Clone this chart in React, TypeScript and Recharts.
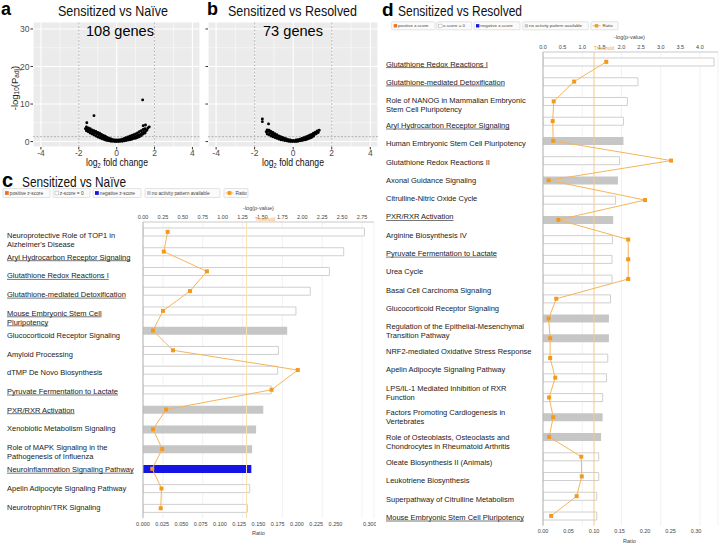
import React, { useLayoutEffect, useRef, useState } from "react";
import {
  ScatterChart,
  Scatter,
  ComposedChart,
  Bar,
  Line,
  Cell,
  XAxis,
  YAxis,
  CartesianGrid,
  ReferenceLine,
} from "recharts";

const FONT = '"Liberation Sans", Arial, Helvetica, sans-serif';

// ---- volcano plots (log2 fold change, -log10 Padj) ----
const naiveGenes: [number, number][] = [
  [-1.65, 3.4], [-1.6, 2.9], [-1.6, 3.9], [-1.55, 3.3], [-1.5, 2.6], [-1.5, 3.6], [-1.45, 3.0],
  [-1.4, 2.3], [-1.4, 3.4], [-1.35, 2.8], [-1.3, 2.0], [-1.3, 3.1], [-1.25, 2.5], [-1.2, 1.8],
  [-1.2, 2.9], [-1.15, 2.3], [-1.1, 1.5], [-1.1, 2.7], [-1.05, 2.1], [-1.0, 1.2], [-1.0, 2.4],
  [-0.95, 1.8], [-0.9, 1.0], [-0.9, 2.2], [-0.85, 1.5], [-0.8, 0.8], [-0.8, 1.9], [-0.75, 1.3],
  [-0.7, 0.6], [-0.7, 1.6], [-0.65, 1.1], [-0.6, 0.4], [-0.6, 1.4], [-0.55, 0.9], [-0.5, 0.3],
  [-0.5, 1.1], [-0.45, 0.7], [-0.4, 0.2], [-0.4, 0.9], [-0.35, 0.5], [-0.3, 0.1], [-0.3, 0.7],
  [-0.25, 0.4], [-0.2, 0.1], [-0.2, 0.5], [-0.15, 0.3], [-0.1, 0.0], [-0.1, 0.4], [-0.05, 0.2],
  [0, 0.0], [0, 0.4], [0.05, 0.2], [0.1, 0.0], [0.1, 0.4], [0.15, 0.2], [0.2, 0.1], [0.2, 0.5],
  [0.25, 0.3], [0.3, 0.1], [0.3, 0.6], [0.35, 0.4], [0.4, 0.2], [0.4, 0.8], [0.45, 0.5],
  [0.5, 0.3], [0.5, 1.0], [0.55, 0.6], [0.6, 0.4], [0.6, 1.2], [0.65, 0.8], [0.7, 0.5],
  [0.7, 1.4], [0.75, 1.0], [0.8, 0.6], [0.8, 1.6], [0.85, 1.1], [0.9, 0.8], [0.9, 1.8],
  [0.95, 1.3], [1.0, 0.9], [1.0, 2.0], [1.05, 1.5], [1.1, 1.1], [1.1, 2.3], [1.15, 1.7],
  [1.2, 1.3], [1.2, 2.6], [1.25, 1.9], [1.3, 1.6], [1.3, 2.9], [1.35, 2.3], [1.4, 2.0],
  [1.4, 3.2], [1.45, 2.6], [1.5, 2.3], [1.5, 3.4], [1.55, 2.9], [1.6, 3.1], [1.65, 3.6],
  [1.72, 3.9],
  [-1.58, 5.0], [-1.2, 6.9], [1.37, 11.1], [1.4, 4.2], [1.52, 4.4],
];

const resolvedGenes: [number, number][] = [
  [-1.4, 2.6], [-1.35, 3.1], [-1.35, 2.0], [-1.3, 2.7], [-1.25, 1.8], [-1.25, 3.0], [-1.2, 2.3],
  [-1.15, 1.5], [-1.15, 2.7], [-1.1, 2.0], [-1.05, 1.3], [-1.05, 2.4], [-1.0, 1.7], [-0.95, 1.1],
  [-0.95, 2.1], [-0.9, 1.5], [-0.85, 0.9], [-0.85, 1.8], [-0.8, 1.2], [-0.75, 0.7], [-0.75, 1.5],
  [-0.7, 1.0], [-0.65, 0.5], [-0.65, 1.3], [-0.6, 0.8], [-0.55, 0.4], [-0.55, 1.1], [-0.5, 0.6],
  [-0.45, 0.3], [-0.45, 0.9], [-0.4, 0.5], [-0.35, 0.2], [-0.35, 0.7], [-0.3, 0.4], [-0.25, 0.1],
  [-0.25, 0.5], [-0.2, 0.3], [-0.15, 0.0], [-0.15, 0.4], [-0.1, 0.2], [-0.05, 0.0], [0, 0.3],
  [0.05, 0.0], [0.1, 0.2], [0.15, 0.0], [0.15, 0.4], [0.2, 0.2], [0.25, 0.1], [0.25, 0.5],
  [0.3, 0.3], [0.35, 0.2], [0.35, 0.6], [0.4, 0.4], [0.45, 0.3], [0.45, 0.8], [0.5, 0.5],
  [0.55, 0.4], [0.55, 1.0], [0.6, 0.7], [0.65, 0.5], [0.65, 1.2], [0.7, 0.9], [0.75, 0.7],
  [0.75, 1.4], [0.8, 1.1], [0.85, 0.9], [0.85, 1.7], [0.9, 1.3], [0.95, 1.1], [0.95, 1.9],
  [1.0, 1.6], [1.05, 1.4], [1.05, 2.2], [1.1, 1.8], [1.15, 2.5], [1.2, 2.1], [1.25, 2.8],
  [1.3, 2.4], [1.35, 3.0],
  [-1.6, 6.0], [-1.6, 5.3], [-1.28, 4.7],
];

const volcanoXTicks = [-4, -2, 0, 2, 4];
const volcanoXMinor = [-3, -1, 1, 3];
const volcanoYTicks = [0, 10, 20, 30];
const volcanoYMinor = [5, 15, 25];

// ---- IPA canonical pathways, Sensitized vs Naive ----
const naivePathways = [
  "Neuroprotective Role of TOP1 in\nAlzheimer's Disease",
  "Aryl Hydrocarbon Receptor Signaling",
  "Glutathione Redox Reactions I",
  "Glutathione-mediated Detoxification",
  "Mouse Embryonic Stem Cell\nPluripotency",
  "Glucocorticoid Receptor Signaling",
  "Amyloid Processing",
  "dTMP De Novo Biosynthesis",
  "Pyruvate Fermentation to Lactate",
  "PXR/RXR Activation",
  "Xenobiotic Metabolism Signaling",
  "Role of MAPK Signaling in the\nPathogenesis of Influenza",
  "Neuroinflammation Signaling Pathway",
  "Apelin Adipocyte Signaling Pathway",
  "Neurotrophin/TRK Signaling",
];
const naiveLogP = [2.78, 2.52, 2.34, 2.1, 1.92, 1.81, 1.7, 1.69, 1.61, 1.51, 1.42, 1.37, 1.36, 1.34, 1.31];
const naiveRatio = [0.032, 0.027, 0.083, 0.061, 0.026, 0.013, 0.039, 0.201, 0.167, 0.03, 0.013, 0.025, 0.012, 0.024, 0.023];
const naiveZ = ["zero", "zero", "zero", "zero", "zero", "none", "zero", "zero", "zero", "none", "none", "none", "neg", "zero", "zero"];
const naiveUnderlined = [false, true, true, true, true, false, false, false, true, true, false, false, true, false, false];

// ---- IPA canonical pathways, Sensitized vs Resolved ----
const resolvedPathways = [
  "Glutathione Redox Reactions I",
  "Glutathione-mediated Detoxification",
  "Role of NANOG in Mammalian Embryonic\nStem Cell Pluripotency",
  "Aryl Hydrocarbon Receptor Signaling",
  "Human Embryonic Stem Cell Pluripotency",
  "Glutathione Redox Reactions II",
  "Axonal Guidance Signaling",
  "Citrulline-Nitric Oxide Cycle",
  "PXR/RXR Activation",
  "Arginine Biosynthesis IV",
  "Pyruvate Fermentation to Lactate",
  "Urea Cycle",
  "Basal Cell Carcinoma Signaling",
  "Glucocorticoid Receptor Signaling",
  "Regulation of the Epithelial-Mesenchymal\nTransition Pathway",
  "NRF2-mediated Oxidative Stress Response",
  "Apelin Adipocyte Signaling Pathway",
  "LPS/IL-1 Mediated Inhibition of RXR\nFunction",
  "Factors Promoting Cardiogenesis in\nVertebrates",
  "Role of Osteoblasts, Osteoclasts and\nChondrocytes in Rheumatoid Arthritis",
  "Oleate Biosynthesis II (Animals)",
  "Leukotriene Biosynthesis",
  "Superpathway of Citrulline Metabolism",
  "Mouse Embryonic Stem Cell Pluripotency",
];
const resolvedLogP = [4.36, 2.42, 2.15, 2.05, 2.05, 1.95, 1.91, 1.85, 1.79, 1.77, 1.76, 1.76, 1.72, 1.68, 1.68, 1.65, 1.62, 1.52, 1.52, 1.48, 1.42, 1.42, 1.37, 1.37];
const resolvedRatio = [0.124, 0.061, 0.021, 0.019, 0.02, 0.251, 0.011, 0.2, 0.03, 0.167, 0.167, 0.167, 0.026, 0.011, 0.014, 0.014, 0.024, 0.012, 0.02, 0.012, 0.075, 0.076, 0.066, 0.016];
const resolvedZ = ["zero", "zero", "zero", "zero", "none", "zero", "none", "zero", "none", "zero", "zero", "zero", "zero", "none", "none", "zero", "zero", "zero", "none", "none", "zero", "zero", "zero", "zero"];
const resolvedUnderlined = [true, true, false, true, false, false, false, false, true, false, true, false, false, false, false, false, false, false, false, false, false, false, false, true];

const naivePTicks = [0, 0.25, 0.5, 0.75, 1, 1.25, 1.5, 1.75, 2, 2.25, 2.5, 2.75];
const naiveRatioTicks = [0, 0.025, 0.05, 0.075, 0.1, 0.125, 0.15, 0.175, 0.2, 0.225, 0.25, 0.275, 0.3];
const resolvedPTicks = [0, 0.5, 1, 1.5, 2, 2.5, 3, 3.5, 4];
const resolvedRatioTicks = [0, 0.05, 0.1, 0.15, 0.2, 0.25, 0.3];
const THRESHOLD = 1.3;

const ZFILL: Record<string, string> = { zero: "#ffffff", none: "#c6c6c6", neg: "#1414e6", pos: "#e8731f" };
const ORANGE_LINE = "#f4b55a";
const ORANGE_DOT = "#f29a1e";
const LABEL_COLOR = "#1a1a1a";

function Volcano({ points, width, yWidth, showYLabels }: { points: [number, number][]; width: number; yWidth: number; showYLabels: boolean }) {
  const data = points.map(([fc, p]) => ({ fc, p }));
  const tickStyle = { fontSize: 8.5, fill: "#4d4d4d", fontFamily: FONT };
  return (
    <ScatterChart width={width} height={170} margin={{ top: 22, right: 0, bottom: 11, left: 0 }}>
      <CartesianGrid fill="#ebebeb" fillOpacity={1} stroke="#ffffff" strokeWidth={1.1} />
      {volcanoXMinor.map((v) => (
        <ReferenceLine key={"x" + v} x={v} stroke="#ffffff" strokeWidth={0.5} />
      ))}
      {volcanoYMinor.map((v) => (
        <ReferenceLine key={"y" + v} y={v} stroke="#ffffff" strokeWidth={0.5} />
      ))}
      <ReferenceLine x={-2} stroke="#8a8a8a" strokeWidth={0.6} strokeDasharray="2 1.5" />
      <ReferenceLine x={2} stroke="#8a8a8a" strokeWidth={0.6} strokeDasharray="2 1.5" />
      <ReferenceLine y={THRESHOLD} stroke="#8a8a8a" strokeWidth={0.6} strokeDasharray="2 1.5" />
      <XAxis
        type="number"
        dataKey="fc"
        domain={[-4.42, 4.4]}
        ticks={volcanoXTicks}
        allowDataOverflow
        height={12}
        axisLine={false}
        tickSize={2.5}
        tickMargin={0}
        tickLine={{ stroke: "#333" }}
        tick={tickStyle}
      />
      <YAxis
        type="number"
        dataKey="p"
        domain={[-1.45, 31.86]}
        ticks={volcanoYTicks}
        allowDataOverflow
        width={yWidth}
        axisLine={false}
        tickSize={2.5}
        tickMargin={1}
        tickLine={{ stroke: "#333" }}
        tick={showYLabels ? tickStyle : () => <g />}
      />
      <Scatter
        data={data}
        isAnimationActive={false}
        shape={(p: any) => <circle cx={p.cx} cy={p.cy} r={1.45} fill="#000" />}
      />
    </ScatterChart>
  );
}

// category label: one <text> per line, underline drawn as a measured line
function PathLabel({ x, y, lines, underline }: { x: number; y: number; lines: string[]; underline: boolean }) {
  const refs = useRef<(SVGTextElement | null)[]>([]);
  const [widths, setWidths] = useState<number[]>([]);
  useLayoutEffect(() => {
    if (underline) setWidths(refs.current.map((r) => (r ? r.getComputedTextLength() : 0)));
  }, [underline, lines.join("|")]);
  return (
    <g>
      {lines.map((ln, k) => (
        <g key={k}>
          <text
            ref={(el) => {
              refs.current[k] = el;
            }}
            x={x}
            y={y + k * 9}
            fontSize={7.5}
            fill={LABEL_COLOR}
            fontFamily={FONT}
            dominantBaseline="central"
          >
            {ln}
          </text>
          {underline && widths[k] ? (
            <line x1={x} x2={x + widths[k]} y1={y + k * 9 + 3.6} y2={y + k * 9 + 3.6} stroke={LABEL_COLOR} strokeWidth={0.6} />
          ) : null}
        </g>
      ))}
    </g>
  );
}

function makeTick(labels: string[], underlined: boolean[], x: number, firstY: number, step: number, extra: number) {
  const ys: number[] = [];
  let y = firstY;
  labels.forEach((l) => {
    ys.push(y);
    y += step + (l.includes("\n") ? extra : 0);
  });
  return (props: any) => {
    const i = props.index;
    return <PathLabel x={x} y={ys[i]} lines={String(props.payload.value).split("\n")} underline={underlined[i]} />;
  };
}

function PathwayChart(props: {
  names: string[];
  logP: number[];
  ratio: number[];
  z: string[];
  underlined: boolean[];
  width: number;
  height: number;
  yWidth: number;
  topH: number;
  bottomH: number;
  pDomain: number;
  rDomain: number;
  pTicks: number[];
  rTicks: number[];
  pDigits: number;
  rDigits: number;
  labelX: number;
  labelY: number;
  labelStep: number;
  labelExtra: number;
  thresholdColor: string;
  rightFrame: boolean;
}) {
  const data = props.names.map((name, i) => ({ name, p: props.logP[i], ratio: props.ratio[i], z: props.z[i] }));
  const tickStyle = { fontSize: 5.5, fill: "#444", fontFamily: FONT };
  return (
    <ComposedChart
      layout="vertical"
      width={props.width}
      height={props.height}
      data={data}
      margin={{ top: 0, right: 2, bottom: props.height - props.topH - props.bottomH - props.names.length * 19.74, left: 0 }}
      barCategoryGap={0}
    >
      <CartesianGrid xAxisId="p" horizontal={false} stroke="#ededed" strokeWidth={0.8} />
      <XAxis
        xAxisId="p"
        orientation="top"
        type="number"
        domain={[0, props.pDomain]}
        ticks={props.pTicks}
        allowDataOverflow
        height={props.topH}
        tickLine={false}
        tickSize={2}
        tickMargin={1.5}
        axisLine={{ stroke: "#c9c9c9" }}
        tick={tickStyle}
        tickFormatter={(v: number) => v.toFixed(props.pDigits)}
      />
      <XAxis
        xAxisId="r"
        orientation="bottom"
        type="number"
        domain={[0, props.rDomain]}
        ticks={props.rTicks}
        allowDataOverflow
        height={props.bottomH}
        tickLine={false}
        tickSize={2}
        tickMargin={1.5}
        axisLine={false}
        tick={tickStyle}
        tickFormatter={(v: number) => v.toFixed(props.rDigits)}
      />
      <YAxis
        type="category"
        dataKey="name"
        width={props.yWidth}
        interval={0}
        tickLine={false}
        axisLine={{ stroke: "#b3b3b3" }}
        tick={makeTick(props.names, props.underlined, props.labelX, props.labelY, props.labelStep, props.labelExtra)}
      />
      {props.rightFrame && (
        <YAxis yAxisId="frame" orientation="right" type="category" dataKey="name" width={0} tick={false} tickLine={false} axisLine={{ stroke: "#c9c9c9" }} />
      )}
      <ReferenceLine xAxisId="p" x={THRESHOLD} stroke={props.thresholdColor} strokeWidth={1} />
      <Bar xAxisId="p" dataKey="p" barSize={8} isAnimationActive={false}>
        {data.map((d, i) => (
          <Cell
            key={i}
            fill={ZFILL[d.z]}
            stroke={d.z === "zero" ? "#cfcfcf" : "none"}
            strokeWidth={d.z === "zero" ? 1 : 0}
          />
        ))}
      </Bar>
      <Line
        xAxisId="r"
        dataKey="ratio"
        stroke={ORANGE_LINE}
        strokeWidth={1}
        isAnimationActive={false}
        dot={(p: any) => <rect key={p.index} x={p.cx - 2} y={p.cy - 2} width={4} height={4} fill={ORANGE_DOT} />}
      />
    </ComposedChart>
  );
}

function LegendRow({ starts, widths, cy, h, fs }: { starts: number[]; widths: number[]; cy: number; h: number; fs: number }) {
  const items = [
    { label: "positive z-score", color: ZFILL.pos, kind: "box" },
    { label: "z-score = 0", color: "#ffffff", kind: "box" },
    { label: "negative z-score", color: ZFILL.neg, kind: "box" },
    { label: "no activity pattern available", color: ZFILL.none, kind: "box" },
    { label: "Ratio", color: ORANGE_DOT, kind: "line" },
  ];
  const s = h * 0.42;
  return (
    <g>
      {items.map((it, i) => {
        const x = starts[i];
        return (
          <g key={it.label}>
            <rect x={x} y={cy - h / 2} width={widths[i]} height={h} fill="#fbfbfb" stroke="#d2d2d2" strokeWidth={0.6} rx={1} />
            {it.kind === "box" ? (
              <rect x={x + 2} y={cy - s / 2} width={s} height={s} fill={it.color} stroke={it.color === "#ffffff" ? "#aaa" : "none"} strokeWidth={0.5} />
            ) : (
              <g>
                <line x1={x + 1.5} x2={x + 9.5} y1={cy} y2={cy} stroke={ORANGE_LINE} strokeWidth={1} />
                <rect x={x + 5.5 - s / 2} y={cy - s / 2} width={s} height={s} fill={it.color} />
              </g>
            )}
            <text x={x + (it.kind === "box" ? 3 + s : 11.5)} y={cy} fontSize={fs} fill="#444" dominantBaseline="central" fontFamily={FONT}>
              {it.label}
            </text>
          </g>
        );
      })}
    </g>
  );
}

export default function App() {
  return (
    <div style={{ position: "absolute", left: 0, top: 0, width: 721, height: 543, background: "#fff", overflow: "hidden", fontFamily: FONT }}>
      <div style={{ position: "absolute", left: 0, top: 0 }}>
        <Volcano points={naiveGenes} width={200} yWidth={33} showYLabels />
      </div>
      <div style={{ position: "absolute", left: 200, top: 0 }}>
        <Volcano points={resolvedGenes} width={178} yWidth={8} showYLabels={false} />
      </div>

      <div style={{ position: "absolute", left: 0, top: 196, width: 376, height: 349, overflow: "hidden" }}>
        <PathwayChart
          names={naivePathways}
          logP={naiveLogP}
          ratio={naiveRatio}
          z={naiveZ}
          underlined={naiveUnderlined}
          width={376}
          height={349}
          yWidth={143}
          topH={26}
          bottomH={20}
          pDomain={2.9}
          rDomain={0.3}
          pTicks={naivePTicks}
          rTicks={naiveRatioTicks}
          pDigits={2}
          rDigits={3}
          labelX={7}
          labelY={39}
          labelStep={18.7}
          labelExtra={3.4}
          thresholdColor="#fbe2ae"
          rightFrame={false}
        />
      </div>

      <div style={{ position: "absolute", left: 376, top: 30 }}>
        <PathwayChart
          names={resolvedPathways}
          logP={resolvedLogP}
          ratio={resolvedRatio}
          z={resolvedZ}
          underlined={resolvedUnderlined}
          width={344}
          height={513}
          yWidth={167}
          topH={22}
          bottomH={17}
          pDomain={4.46}
          rDomain={0.343}
          pTicks={resolvedPTicks}
          rTicks={resolvedRatioTicks}
          pDigits={1}
          rDigits={2}
          labelX={10}
          labelY={34}
          labelStep={18.3}
          labelExtra={6.5}
          thresholdColor="#f5c98a"
          rightFrame={true}
        />
      </div>

      <svg width={721} height={543} style={{ position: "absolute", left: 0, top: 0, pointerEvents: "none" }} fontFamily={FONT}>
        {/* panel letters and titles */}
        <text x={1} y={14.5} fontSize={18} fontWeight="bold" fill="#000">a</text>
        <text x={58} y={15.5} fontSize={15} textLength={110} lengthAdjust="spacingAndGlyphs" fill="#111">Sensitized vs Naïve</text>
        <text x={207} y={15} fontSize={18} fontWeight="bold" fill="#000">b</text>
        <text x={228} y={15.5} fontSize={15} textLength={129} lengthAdjust="spacingAndGlyphs" fill="#111">Sensitized vs Resolved</text>
        <text x={86} y={35.5} fontSize={14.5} textLength={68} lengthAdjust="spacingAndGlyphs" fill="#000">108 genes</text>
        <text x={263} y={35.5} fontSize={14.5} textLength={60} lengthAdjust="spacingAndGlyphs" fill="#000">73 genes</text>

        <text transform="translate(14,88) rotate(-90)" textAnchor="middle" dominantBaseline="central" fontSize={9.5} fill="#222">
          -log<tspan fontSize={6.5} dy={2}>10</tspan>
          <tspan dy={-2}>(P</tspan>
          <tspan fontSize={6.5} dy={2}>adj</tspan>
          <tspan dy={-2}>)</tspan>
        </text>
        {[117, 293].map((cx) => (
          <text key={cx} x={cx} y={166} textAnchor="middle" fontSize={10} textLength={62} lengthAdjust="spacingAndGlyphs" fill="#111">
            log<tspan fontSize={6.5} dy={2}>2</tspan>
            <tspan dy={-2}> fold change</tspan>
          </text>
        ))}

        <text x={2} y={187} fontSize={20} fontWeight="bold" fill="#000">c</text>
        <text x={22} y={186.5} fontSize={15} textLength={104} lengthAdjust="spacingAndGlyphs" fill="#111">Sensitized vs Naïve</text>
        <text x={382} y={15.5} fontSize={19} fontWeight="bold" fill="#000">d</text>
        <text x={398} y={16} fontSize={15} textLength={124} lengthAdjust="spacingAndGlyphs" fill="#111">Sensitized vs Resolved</text>

        <LegendRow starts={[3, 53, 93, 145, 224]} widths={[47, 37, 48, 75, 24]} cy={193} h={9} fs={4.8} />
        <LegendRow starts={[391.7, 436.7, 474, 522.7, 591]} widths={[43.3, 35, 46, 65.6, 27]} cy={25.8} h={8} fs={4.4} />

        <text x={258.5} y={208} textAnchor="middle" dominantBaseline="central" fontSize={5.5} fill="#444">-log(p-value)</text>
        <text x={258.5} y={533} textAnchor="middle" dominantBaseline="central" fontSize={5.5} fill="#444">Ratio</text>
        <text x={255} y={220.5} fontSize={4.5} fill="#f0a030">Threshold</text>

        <text x={629.5} y={37} textAnchor="middle" dominantBaseline="central" fontSize={5.5} fill="#444">-log(p-value)</text>
        <text x={629.5} y={540.5} textAnchor="middle" dominantBaseline="central" fontSize={5.5} fill="#444">Ratio</text>
        <text x={594} y={50} fontSize={4.5} fill="#f0a030">Threshold</text>
      </svg>
    </div>
  );
}
